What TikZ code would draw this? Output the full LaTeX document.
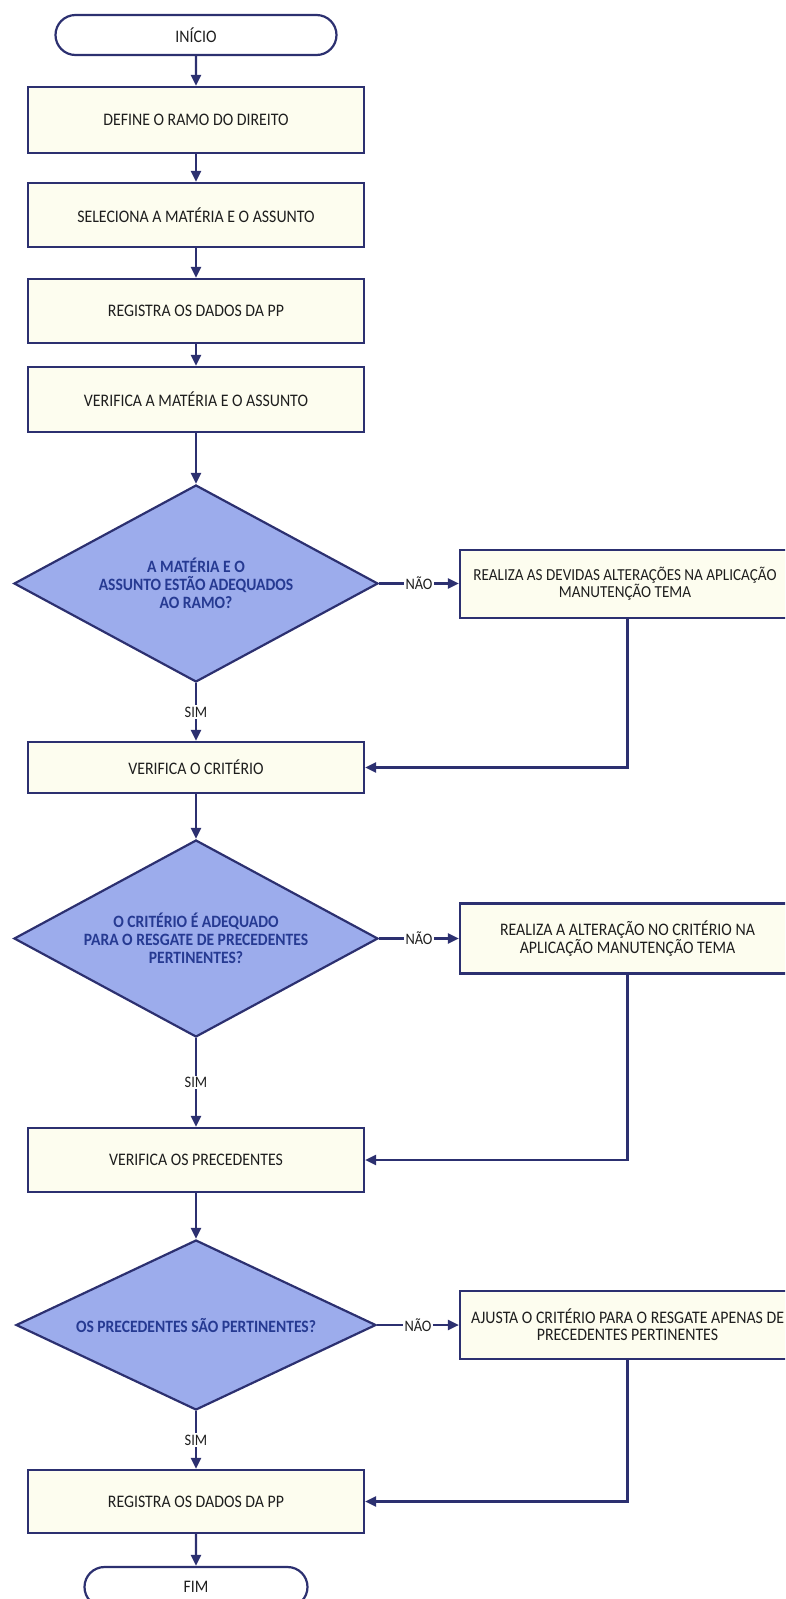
\documentclass[tikz,border=0pt]{standalone}
\usepackage{xcolor}
\usepackage{fontspec}
\setmainfont{Carlito}[FakeStretch=0.9]
\usetikzlibrary{arrows.meta,shapes.geometric,shapes.misc}

\definecolor{navy}{RGB}{44,48,112}
\definecolor{cream}{RGB}{253,253,239}
\definecolor{lilac}{RGB}{156,172,236}
\definecolor{deepblue}{RGB}{38,58,146}
\definecolor{ink}{RGB}{30,30,30}

\tikzset{
  process/.style={draw=navy, line width=2.2pt, fill=cream, text=ink, minimum width=336pt,
    minimum height=64pt, inner sep=0pt, align=center, font=\fontsize{17.6}{16.8}\selectfont},
  decision/.style={diamond, draw=navy, line width=2.2pt, fill=lilac, text=deepblue, aspect=1.85,
    minimum width=364pt, minimum height=197pt, inner sep=0pt, align=center,
    font=\bfseries\fontsize{17.3}{18}\selectfont},
  terminal/.style={rounded rectangle, draw=navy, line width=2.2pt, fill=white, text=ink,
    minimum height=40pt, inner sep=0pt, font=\fontsize{17.6}{17.6}\selectfont},
  conn/.style={draw=navy, line width=2.2pt, ->},
  lbl/.style={fill=white, inner sep=1.5pt, text=ink, font=\fontsize{16}{16}\selectfont}
}

\begin{document}
\begin{tikzpicture}[x=1pt, y=-1pt, >={Triangle[length=11pt,width=10pt]}]
  \clip (0,0) rectangle (785,1599);
  % main column
  \node[terminal, minimum width=281pt] (start) at (196,35) {INÍCIO};
  \node[process, minimum height=66pt] (ramo) at (196,120) {DEFINE O RAMO DO DIREITO};
  \node[process] (selmat) at (196,215) {SELECIONA A MATÉRIA E O ASSUNTO};
  \node[process] (regpp) at (196,311) {REGISTRA OS DADOS DA PP};
  \node[process, minimum height=65pt] (vermat) at (196,399.5) {VERIFICA A MATÉRIA E O ASSUNTO};
  \node[decision] (qmat) at (196,583.5) {A MATÉRIA E O\\ASSUNTO ESTÃO ADEQUADOS\\AO RAMO?};
  \node[process, minimum height=51pt] (vercrit) at (196,767.5) {VERIFICA O CRITÉRIO};
  \node[decision] (qcrit) at (196,938.5) {O CRITÉRIO É ADEQUADO\\PARA O RESGATE DE PRECEDENTES\\PERTINENTES?};
  \node[process] (verprec) at (196,1160) {VERIFICA OS PRECEDENTES};
  \node[decision, aspect=2.1, minimum width=360pt, minimum height=170pt] (qprec) at (196,1325) {OS PRECEDENTES SÃO PERTINENTES?};
  \node[process, minimum height=63pt] (regfim) at (196,1501.5) {REGISTRA OS DADOS DA PP};
  \node[terminal, minimum width=223pt] (stop) at (196,1587) {FIM};
  % side boxes
  \node[process, minimum width=330pt, minimum height=68pt, font=\fontsize{16.8}{16.8}\selectfont] (altmat) at (625,584) {REALIZA AS DEVIDAS ALTERAÇÕES NA APLICAÇÃO\\MANUTENÇÃO TEMA};
  \node[process, minimum width=335pt, minimum height=70pt] (altcrit) at (627.5,938.5) {REALIZA A ALTERAÇÃO NO CRITÉRIO NA\\APLICAÇÃO MANUTENÇÃO TEMA};
  \node[process, minimum width=335pt, minimum height=68pt] (altprec) at (627.5,1325) {AJUSTA O CRITÉRIO PARA O RESGATE APENAS DE\\PRECEDENTES PERTINENTES};
  % connectors
  \draw[conn] (start) -- (ramo);
  \draw[conn] (ramo) -- (selmat);
  \draw[conn] (selmat) -- (regpp);
  \draw[conn] (regpp) -- (vermat);
  \draw[conn] (vermat) -- (qmat);
  \draw[conn] (qmat) -- node[lbl] {SIM} (vercrit);
  \draw[conn] (qmat.east) -- node[lbl] {NÃO} (qmat.east -| altmat.west);
  \draw[conn] (altmat.south -| altcrit.south) |- (vercrit.east);
  \draw[conn] (vercrit) -- (qcrit);
  \draw[conn] (qcrit) -- node[lbl] {SIM} (verprec);
  \draw[conn] (qcrit.east) -- node[lbl] {NÃO} (altcrit.west);
  \draw[conn] (altcrit.south) |- (verprec.east);
  \draw[conn] (verprec) -- (qprec);
  \draw[conn] (qprec) -- node[lbl] {SIM} (regfim);
  \draw[conn] (qprec.east) -- node[lbl] {NÃO} (altprec.west);
  \draw[conn] (altprec.south) |- (regfim.east);
  \draw[conn] (regfim) -- (stop);
\end{tikzpicture}
\end{document}
